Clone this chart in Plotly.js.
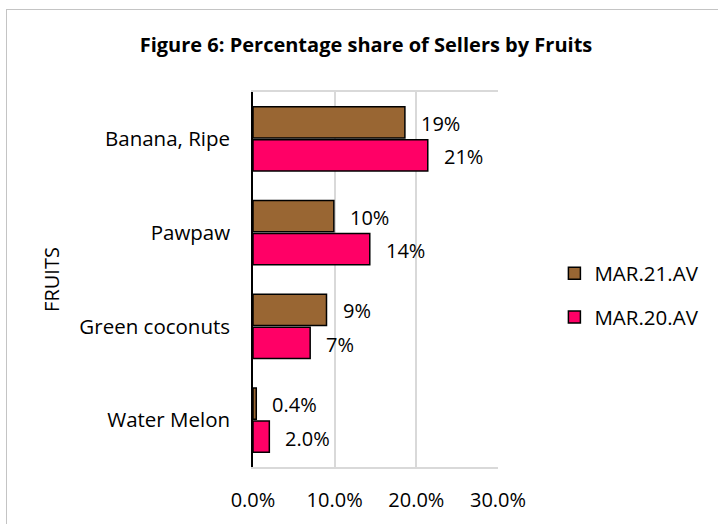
<!DOCTYPE html>
<html>
<head>
<meta charset="utf-8">
<script src="https://cdn.plot.ly/plotly-3.0.1.min.js"></script>
<style>
  html, body { margin:0; padding:0; background:#fff; overflow:hidden; }
  #frame { position:absolute; left:6px; top:9px; width:800px; height:700px; border:1.5px solid #c4c4c4; }
  #chart { position:absolute; left:0; top:0; width:718px; height:524px; }
</style>
</head>
<body>
<div id="frame"></div>
<div id="chart"></div>
<script>
const categories = ["Banana, Ripe", "Pawpaw", "Green coconuts", "Water Melon"];
const seriesNames = ["MAR.21.AV", "MAR.20.AV"];
const mar21 = [0.186, 0.099, 0.090, 0.004];
const mar20 = [0.214, 0.143, 0.070, 0.020];
const mar21Labels = ["19%", "10%", "9%", "0.4%"];
const mar20Labels = ["21%", "14%", "7%", "2.0%"];
const tickVals = [0, 0.1, 0.2, 0.3];
const tickText = ["0.0%", "10.0%", "20.0%", "30.0%"];

const FONT = "Open Sans, sans-serif";

const traces = [
  {
    type: "bar", orientation: "h", name: seriesNames[0],
    y: categories, x: mar21, legendgroup: "a",
    marker: { color: "#996633", line: { color: "#000", width: 1.5 } },
    hoverinfo: "skip"
  },
  {
    type: "bar", orientation: "h", name: seriesNames[1],
    y: categories, x: mar20, legendgroup: "b",
    marker: { color: "#FF0066", line: { color: "#000", width: 1.5 } },
    hoverinfo: "skip"
  }
];

const annotations = [];
categories.forEach((c, i) => {
  annotations.push({ x: mar21[i], y: c, xref: "x", yref: "y", text: mar21Labels[i],
    showarrow: false, xanchor: "left", yanchor: "middle", xshift: 14, yshift: 15.5,
    font: { family: FONT, size: 20, color: "#000" } });
  annotations.push({ x: mar20[i], y: c, xref: "x", yref: "y", text: mar20Labels[i],
    showarrow: false, xanchor: "left", yanchor: "middle", xshift: 14, yshift: -18,
    font: { family: FONT, size: 20, color: "#000" } });
});

const layout = {
  width: 718, height: 524,
  paper_bgcolor: "rgba(0,0,0,0)", plot_bgcolor: "#fff",
  margin: { l: 253, r: 220, t: 92, b: 57 },
  font: { family: FONT, size: 20, color: "#000" },
  title: {
    text: "<b>Figure 6: Percentage share of Sellers by Fruits</b>",
    font: { family: FONT, size: 20, color: "#000" },
    x: 366/718, xref: "container", xanchor: "center",
    y: 1 - 45/524, yref: "container", yanchor: "middle"
  },
  barmode: "group",
  bargap: 0.296,
  bargroupgap: 0.05,
  xaxis: {
    range: [0, 0.3], tickvals: tickVals, ticktext: tickText,
    showgrid: true, gridcolor: "#d9d9d9", gridwidth: 2,
    zeroline: false, showline: true, linecolor: "#d9d9d9", linewidth: 2, mirror: true,
    ticks: "", ticklabelstandoff: 14,
    tickfont: { family: FONT, size: 20, color: "#000" },
    fixedrange: true
  },
  yaxis: {
    type: "category", categoryorder: "array", categoryarray: categories,
    autorange: "reversed",
    showgrid: false, zeroline: false,
    showline: true, linecolor: "#000", linewidth: 1.8,
    ticks: "", ticklabelstandoff: 17,
    tickfont: { family: FONT, size: 20.5, color: "#000" },
    title: { text: "FRUITS", standoff: 14, font: { family: FONT, size: 20, color: "#000" } },
    fixedrange: true
  },
  legend: {
    x: (569 - 14.6) / 718, xref: "container", xanchor: "left",
    y: 1 - 295.5 / 524, yref: "container", yanchor: "middle",
    font: { family: FONT, size: 20.5, color: "#000" },
    tracegroupgap: 14,
    bgcolor: "rgba(0,0,0,0)"
  },
  annotations: annotations,
  showlegend: true
};

Plotly.newPlot("chart", traces, layout, { displayModeBar: false, staticPlot: true });
</script>
</body>
</html>
